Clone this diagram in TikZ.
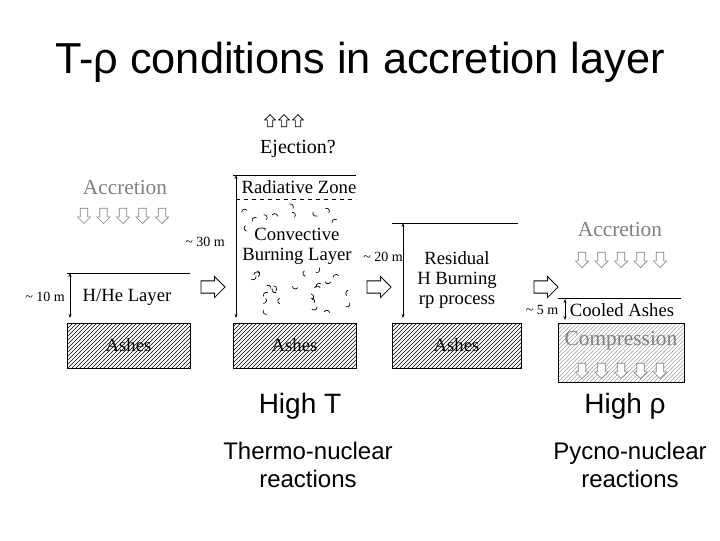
\documentclass[tikz,border=0pt]{standalone}
\usepackage{fontspec}
\setmainfont{Liberation Serif}
\setsansfont{Liberation Sans}
\usetikzlibrary{patterns,shapes.arrows,arrows.meta}
\newcommand{\hshaft}{\rule{0pt}{7.5pt}}
\newcommand{\vshaft}{\rule{4.5pt}{0pt}}
\newcommand{\ushaft}{\rule{3.5pt}{0pt}}
\begin{document}
\begin{tikzpicture}[x=0.75pt,y=-0.75pt,
  lab/.style={inner sep=0pt,font=\fontsize{14}{15}\selectfont},
  dimlab/.style={inner sep=0pt,font=\fontsize{10.5}{11}\selectfont},
  gray lab/.style={inner sep=0pt,text=gray,font=\fontsize{16}{17}\selectfont},
  sans big/.style={inner sep=0pt,font=\sffamily\fontsize{21}{23}\selectfont},
  sans med/.style={inner sep=0pt,align=center,font=\sffamily\fontsize{18}{21}\selectfont},
  harr/.style={single arrow,draw=black,fill=white,line width=0.6pt,minimum height=18pt,minimum width=16pt,single arrow head extend=3pt,inner sep=0pt},
  darr/.style={single arrow,draw=gray,fill=white,line width=0.5pt,minimum height=11.5pt,minimum width=10pt,single arrow head extend=2pt,inner sep=0pt,shape border rotate=270},
  uarr/.style={darr,draw=black,shape border rotate=90,minimum height=9pt,minimum width=8pt},
  dim/.style={line width=0.6pt,{Stealth[length=3pt]}-{Stealth[length=3pt]}},
  ashes/.style={draw=black,pattern=north east lines,line width=0.5pt}]
\useasboundingbox (0,0) rectangle (720,540);
\node[inner sep=0pt,font=\sffamily\fontsize{32.5}{34}\selectfont] (title) at (360,62) {T-ρ conditions in accretion layer};
\foreach \i/\xx in {1/270,2/284,3/298} \node[uarr] (up\i) at (\xx,122) {\ushaft};
\node[inner sep=0pt,font=\fontsize{15}{16}\selectfont] (ej) at (298,149) {Ejection?};
% panel 1
\node[gray lab] (acc1) at (125,188) {Accretion};
\foreach \i in {0,...,4} \node[darr] (da\i) at (84+\i*19.5,214) {\vshaft};
\coordinate (t1l) at (67,273); \coordinate (t1r) at (190,273);
\draw[line width=0.6pt] (t1l) -- (t1r);
\coordinate (d1a) at (70,273); \coordinate (d1b) at (70,318);
\draw[dim] (d1a) -- (d1b);
\node[dimlab] (l10) at (45,297) {\textasciitilde{} 10 m};
\node[lab] (hhe) at (127,297) {H/He Layer};
\node[ashes,minimum width=92.25pt,minimum height=33.75pt,inner sep=0pt] (as1) at (128.5,345.5) {};
\node[lab] at (as1) {Ashes};
\node[harr] (ar1) at (210,287) {\hshaft};
% panel 2
\coordinate (t2l) at (233,175); \coordinate (t2r) at (356,175);
\draw[line width=0.6pt] (t2l) -- (t2r);
\coordinate (dl2l) at (236,199); \coordinate (dl2r) at (356,199);
\draw[dashed,line width=0.5pt] (dl2l) -- (dl2r);
\coordinate (d2a) at (236,175); \coordinate (d2b) at (236,318);
\draw[dim] (d2a) -- (d2b);
\node[dimlab] (l30) at (205,242) {\textasciitilde{} 30 m};
\node[lab] (rad) at (299,187) {Radiative Zone};
\node[lab,align=center] (conv) at (297,246) {Convective\\Burning Layer};
\pgfmathsetseed{7}
\foreach \k in {1,...,55}{
  \pgfmathsetmacro{\px}{245+rnd*105}
  \pgfmathsetmacro{\py}{205+rnd*108}
  \pgfmathsetmacro{\pa}{rnd*360}
  \pgfmathparse{(\py>226 && \py<268 && \px>248) ? 1 : 0}
  \ifnum\pgfmathresult=0
    \draw[line width=0.5pt] (\px,\py) arc[start angle=\pa,delta angle=140,radius=2.3pt];
  \fi
}
\node[ashes,minimum width=92.25pt,minimum height=33.75pt,inner sep=0pt] (as2) at (294.5,345.5) {};
\node[lab] at (as2) {Ashes};
\node[harr] (ar2) at (376,287) {\hshaft};
% panel 3
\coordinate (t3l) at (392,223); \coordinate (t3r) at (518,223);
\draw[line width=0.6pt] (t3l) -- (t3r);
\coordinate (d3a) at (403,223); \coordinate (d3b) at (403,318);
\draw[dim] (d3a) -- (d3b);
\node[dimlab] (l20) at (383,257) {\textasciitilde{} 20 m};
\node[lab,align=center] (res) at (457,280) {Residual\\H Burning\\rp process};
\node[ashes,minimum width=96.75pt,minimum height=33.75pt,inner sep=0pt] (as3) at (456.5,345.5) {};
\node[lab] at (as3) {Ashes};
\node[harr] (ar3) at (543,287) {\hshaft};
% panel 4
\node[gray lab] (acc2) at (620,230) {Accretion};
\foreach \i in {0,...,4} \node[darr] (db\i) at (582+\i*19.5,258) {\vshaft};
\coordinate (t4l) at (558,298); \coordinate (t4r) at (681,298);
\draw[line width=0.6pt] (t4l) -- (t4r);
\coordinate (d4a) at (565,299); \coordinate (d4b) at (565,320);
\draw[dim] (d4a) -- (d4b);
\node[dimlab] (l5) at (542,310) {\textasciitilde{} 5 m};
\node[lab] (cool) at (622,310) {Cooled Ashes};
\node[draw=black,pattern=north east lines,pattern color=gray!70,line width=0.6pt,minimum width=94.5pt,minimum height=44.25pt,inner sep=0pt] (as4) at (621,352.5) {};
\node[gray lab] (comp) at (621,341) {Compression};
\foreach \i in {0,...,4} \node[darr] (dc\i) at (582+\i*19.5,369) {\vshaft};
% bottom texts
\node[sans big] (hT) at (300,406) {High T};
\node[sans big] (hr) at (625,406) {High ρ};
\node[sans med] (tn) at (308,465) {Thermo-nuclear\\reactions};
\node[sans med] (pn) at (630,465) {Pycno-nuclear\\reactions};
\end{tikzpicture}
\end{document}
